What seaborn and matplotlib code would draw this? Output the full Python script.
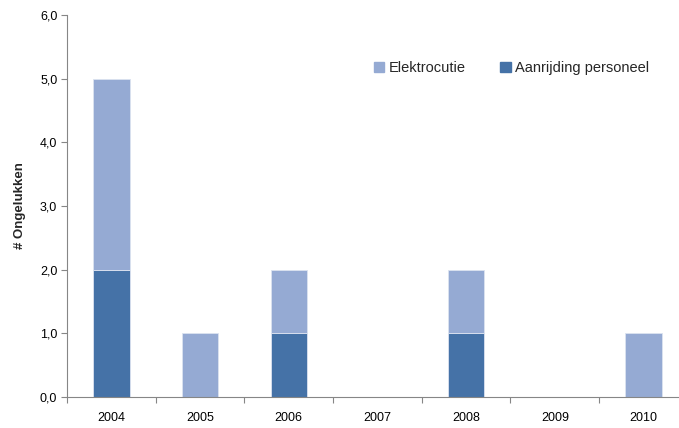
import matplotlib
matplotlib.use("Agg")
import matplotlib.pyplot as plt
import seaborn as sns
import pandas as pd
from matplotlib.ticker import FuncFormatter, MultipleLocator, FixedLocator
from matplotlib.patches import Patch

years = ["2004", "2005", "2006", "2007", "2008", "2009", "2010"]
aanrijding = [2, 0, 1, 0, 1, 0, 0]
elektrocutie = [3, 1, 1, 0, 1, 0, 1]

dark = "#4572A7"
light = "#95AAD3"

sns.set_theme(style="white")
plt.rcParams['font.family'] = ['Liberation Sans', 'DejaVu Sans']

fig = plt.figure(figsize=(6.79, 4.28), dpi=100)
ax = fig.add_axes([67/679, 31/428, 1 - 67/679, 382/428])

df = pd.DataFrame({"year": years, "a": aanrijding, "e": elektrocutie})
sns.barplot(data=df, x="year", y="a", color=dark, width=0.41, ax=ax,
            edgecolor="#DCE3F0", linewidth=0.6, saturation=1)
sns.barplot(data=df, x="year", y="e", bottom=df["a"], color=light, width=0.41, ax=ax,
            edgecolor="#DCE3F0", linewidth=0.6, saturation=1)

ax.set_xlim(-0.5, 6.4)
ax.set_ylim(0, 6)
ax.yaxis.set_major_locator(MultipleLocator(1))
ax.yaxis.set_major_formatter(FuncFormatter(lambda v, p: f"{v:.1f}".replace(".", ",")))

ax.xaxis.set_minor_locator(FixedLocator([i - 0.5 for i in range(8)]))
ax.tick_params(axis="x", which="major", length=0, pad=11, labelsize=9, colors="black")
ax.tick_params(axis="x", which="minor", length=4, width=0.8, color="#868686", direction="out", bottom=True)
ax.tick_params(axis="y", which="major", length=4, width=0.8, color="#868686", direction="out", left=True, labelsize=9, colors="black", pad=3)

for s in ["top", "right"]:
    ax.spines[s].set_visible(False)
for s in ["left", "bottom"]:
    ax.spines[s].set_color("#868686")
    ax.spines[s].set_linewidth(0.8)

ax.set_xlabel("")
ax.set_ylabel("# Ongelukken", fontsize=9.5, fontweight="bold", labelpad=10)
ax.grid(False)

handles = [Patch(color=light, label="Elektrocutie"), Patch(color=dark, label="Aanrijding personeel")]
ax.legend(handles=handles, ncol=2, frameon=False, fontsize=10.5, loc="center left",
          bbox_to_anchor=(0.48, 0.86), handlelength=0.7, handleheight=0.7,
          handletextpad=0.3, columnspacing=2.4)

fig.savefig("out.png", dpi=100)
